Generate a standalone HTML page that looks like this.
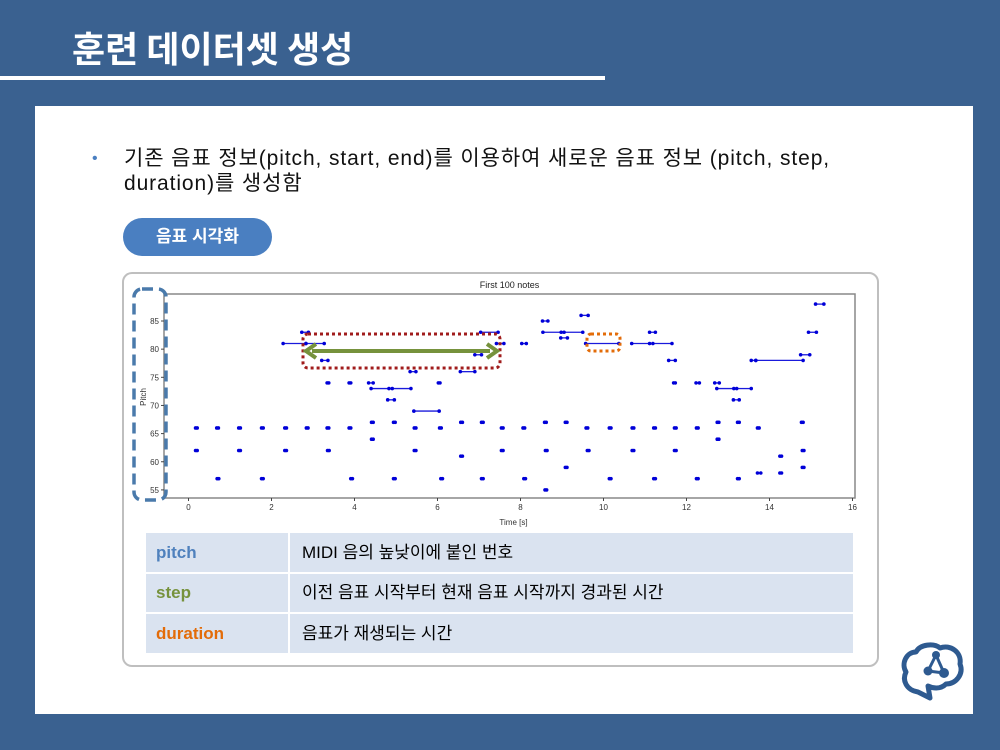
<!DOCTYPE html>
<html><head><meta charset="utf-8">
<style>
body{margin:0;width:1000px;height:750px;background:#3a6190;position:relative;overflow:hidden;font-family:"Liberation Sans","Noto Sans CJK KR",sans-serif;}
.abs{position:absolute;}
</style></head>
<body>
<div class="abs" style="left:72px;top:22px;font-size:36px;font-weight:bold;color:#fff;font-family:'Noto Sans CJK KR',sans-serif;letter-spacing:0px;line-height:50px;">훈련 데이터셋 생성</div>
<div class="abs" style="left:0;top:76px;width:605px;height:4px;background:#fff;"></div>
<div class="abs" style="left:35px;top:106px;width:938px;height:608px;background:#fff;"></div>
<div class="abs" style="left:92px;top:146px;width:860px;font-size:21px;line-height:25px;color:#111;">
<span style="position:absolute;left:0;color:#4a7fc1;font-size:16px;">•</span>
<div style="margin-left:32px;white-space:nowrap;letter-spacing:0.9px;">기존 음표 정보(pitch, start, end)를 이용하여 새로운 음표 정보 (pitch, step,<br>duration)를 생성함</div></div>
<div class="abs" style="left:123px;top:218px;width:149px;height:38px;border-radius:19px;background:#4a7fc1;color:#fff;font-weight:bold;font-size:17px;text-align:center;line-height:38px;">음표 시각화</div>
<div class="abs" style="left:122px;top:272px;width:753px;height:391px;border:2px solid #bfbfbf;border-radius:10px;"></div>

<svg class="abs" style="left:0;top:0" width="1000" height="750">
<g id="plot"></g>
</svg>

<div class="abs" style="left:146px;top:533px;width:707px;font-size:17px;">
<div style="display:flex;height:39px;background:#dae3f0;border-bottom:2px solid #fff;line-height:39px;"><div style="width:132px;padding-left:10px;border-right:2px solid #fff;color:#4f81bd;font-weight:bold;">pitch</div><div style="padding-left:12px;">MIDI 음의 높낮이에 붙인 번호</div></div>
<div style="display:flex;height:38px;background:#dae3f0;border-bottom:2px solid #fff;line-height:38px;"><div style="width:132px;padding-left:10px;border-right:2px solid #fff;color:#76923c;font-weight:bold;">step</div><div style="padding-left:12px;">이전 음표 시작부터 현재 음표 시작까지 경과된 시간</div></div>
<div style="display:flex;height:39px;background:#dae3f0;line-height:39px;"><div style="width:132px;padding-left:10px;border-right:2px solid #fff;color:#e36c09;font-weight:bold;">duration</div><div style="padding-left:12px;">음표가 재생되는 시간</div></div>
</div>

<svg class="abs" style="left:898px;top:640px" width="70" height="65" viewBox="0 0 70 65">
<path d="M20 52 C8 50 4 40 8 32 C3 24 8 12 18 12 C22 4 36 3 42 8 C52 4 64 12 62 24 C66 34 58 44 48 44 C42 50 34 48 30 46 L32 58 Z" fill="none" stroke="#2e5a90" stroke-width="5" stroke-linejoin="round"/>
<line x1="38" y1="15" x2="30" y2="31" stroke="#2e5a90" stroke-width="3"/><line x1="30" y1="31" x2="46" y2="33" stroke="#2e5a90" stroke-width="3"/><line x1="38" y1="15" x2="46" y2="33" stroke="#2e5a90" stroke-width="3"/>
<circle cx="38" cy="15" r="4" fill="#2e5a90"/><circle cx="30" cy="31" r="4.5" fill="#2e5a90"/><circle cx="46" cy="33" r="5" fill="#2e5a90"/>
</svg>

<script>
const xTicks=[0,2,4,6,8,10,12,14,16];
const yTicks=[55,60,65,70,75,80,85];
const notePitch=[66,62,66,57,66,62,66,57,81,66,62,83,81,66,78,74,66,62,74,66,57,74,73,67,64,71,73,67,57,76,69,66,62,74,66,57,76,67,61,79,83,67,57,81,66,62,81,66,57,85,83,67,62,55,82,83,67,59,86,81,66,62,66,57,81,66,62,83,81,66,57,78,74,66,62,74,66,57,74,73,67,64,71,73,67,57,78,78,66,58,61,58,79,67,62,59,83,88];
const noteStart=[0.17,0.17,0.68,0.69,1.21,1.21,1.76,1.76,2.28,2.32,2.32,2.73,2.83,2.84,3.21,3.34,3.34,3.35,3.87,3.87,3.91,4.34,4.40,4.41,4.41,4.80,4.91,4.94,4.94,5.34,5.43,5.44,5.44,6.02,6.05,6.08,6.55,6.56,6.56,6.90,7.04,7.06,7.06,7.42,7.54,7.54,8.03,8.06,8.08,8.53,8.54,8.58,8.60,8.59,8.97,9.05,9.08,9.08,9.46,9.57,9.58,9.61,10.14,10.14,10.68,10.69,10.69,11.11,11.19,11.21,11.21,11.57,11.69,11.71,11.71,12.23,12.24,12.24,12.68,12.73,12.74,12.74,13.13,13.21,13.23,13.23,13.56,13.67,13.71,13.71,14.25,14.25,14.75,14.77,14.79,14.79,14.94,15.11];
const noteEnd=[0.21,0.21,0.72,0.73,1.25,1.25,1.80,1.80,2.83,2.36,2.36,2.89,3.27,2.88,3.36,3.38,3.38,3.39,3.91,3.91,3.95,4.45,4.83,4.45,4.45,4.96,5.36,4.98,4.98,5.48,6.04,5.48,5.48,6.06,6.09,6.12,6.90,6.60,6.60,7.06,7.46,7.10,7.10,7.60,7.58,7.58,8.14,8.10,8.12,8.66,8.98,8.62,8.64,8.63,9.13,9.50,9.12,9.12,9.63,10.37,9.62,9.65,10.18,10.18,11.11,10.73,10.73,11.25,11.65,11.25,11.25,11.73,11.73,11.75,11.75,12.31,12.28,12.28,12.79,13.14,12.78,12.78,13.27,13.56,13.27,13.27,13.67,14.81,13.75,13.79,14.29,14.29,14.97,14.81,14.83,14.83,15.13,15.31];
const NS='http://www.w3.org/2000/svg';
const g=document.getElementById('plot');
const L=164,R=855,T=294,B=498;
function sx(t){return 188.5+t*41.5;}
function sy(p){return 321+(85-p)*5.63;}
function mk(tag,attrs){const e=document.createElementNS(NS,tag);for(const k in attrs)e.setAttribute(k,attrs[k]);g.appendChild(e);return e;}
let e=mk('rect',{x:L,y:T,width:R-L,height:B-T,fill:'#fff',stroke:'#888','stroke-width':1.5});


e=mk('text',{x:(L+R)/2,y:288,'font-size':9,'text-anchor':'middle','font-family':'Liberation Sans, sans-serif',fill:'#222'});e.textContent='First 100 notes';


xTicks.forEach(v=>{const x=sx(v);mk('line',{x1:x,x2:x,y1:B,y2:B+3,stroke:'#444'});
 const t=mk('text',{x:x,y:B+12,'font-size':8,'text-anchor':'middle','font-family':'Liberation Sans, sans-serif',fill:'#333'});t.textContent=v;
 
 });
yTicks.forEach(v=>{const y=sy(v);mk('line',{x1:L-3,x2:L,y1:y,y2:y,stroke:'#444'});
 const t=mk('text',{x:L-5,y:y+3,'font-size':8,'text-anchor':'end','font-family':'Liberation Sans, sans-serif',fill:'#333'});t.textContent=v;
 
 });
e=mk('text',{x:(L+R)/2+4,y:525,'font-size':8,'text-anchor':'middle','font-family':'Liberation Sans, sans-serif',fill:'#333'});e.textContent='Time [s]';


e=mk('text',{x:0,y:0,'font-size':8,'text-anchor':'middle','font-family':'Liberation Sans, sans-serif',fill:'#333',transform:'translate(146,397) rotate(-90)'});e.textContent='Pitch';


notePitch.forEach((p,i)=>{const x1=sx(noteStart[i]),x2=sx(noteEnd[i]),y=sy(p);
 const n=mk('line',{x1:x1,x2:x2,y1:y,y2:y,stroke:'#1a1adc','stroke-width':1.3});
 
 
 mk('circle',{cx:x1,cy:y,r:1.8,fill:'#0000d8'});mk('circle',{cx:x2,cy:y,r:1.8,fill:'#0000d8'});});
e=mk('rect',{x:134,y:289,width:32,height:211,rx:8,fill:'none',stroke:'#4a7aab','stroke-width':3.5,'stroke-dasharray':'11 6'});


e=mk('rect',{x:303,y:334,width:197,height:34,rx:5,fill:'none',stroke:'#a01c1c','stroke-width':3,'stroke-dasharray':'3 3'});


e=mk('line',{x1:312,x2:490,y1:351,y2:351,stroke:'#76923c','stroke-width':4});


mk('path',{d:'M316 344 L306 351 L316 358',fill:'none',stroke:'#76923c','stroke-width':4});
mk('path',{d:'M487 344 L497 351 L487 358',fill:'none',stroke:'#76923c','stroke-width':4});
e=mk('rect',{x:587,y:334,width:33,height:17,rx:4,fill:'none',stroke:'#e36c09','stroke-width':3,'stroke-dasharray':'3 3'});


</script>
</body></html>
